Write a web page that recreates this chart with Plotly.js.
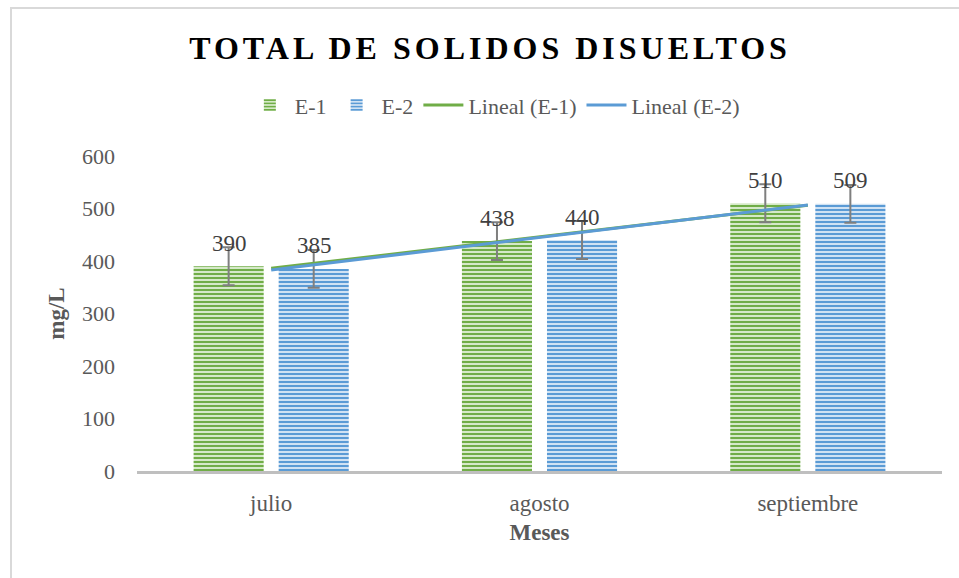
<!DOCTYPE html>
<html>
<head>
<meta charset="utf-8">
<script src="https://cdn.plot.ly/plotly-3.0.1.min.js"></script>
<style>
  html, body { margin:0; padding:0; background:#fff; overflow:hidden; }
  #frame { position:absolute; left:10px; top:7px; width:960px; height:580px;
           border-left:2px solid #d9d9d9; border-top:2px solid #d9d9d9; box-sizing:border-box; }
  #chart { position:absolute; left:0; top:0; width:959px; height:578px; }
  #chart .gtitle { letter-spacing:4px; }
</style>
</head>
<body>
<div id="frame"></div>
<div id="chart"></div>
<script>
// Data
const months = ['julio', 'agosto', 'septiembre'];
const e1 = [390, 438, 510];
const e2 = [385, 440, 509];
const errE1 = [36, 36, 36];
const errE2 = [36, 36, 36];
const trendE1 = [386, 446, 506];
const trendE2 = [382.7, 444.7, 506.7];

const serif = 'Liberation Serif, Times New Roman, serif';

const errStyle = (arr) => ({ type:'data', array:arr, visible:true, color:'#7f7f7f', thickness:2, width:6 });

const traces = [
  { type:'bar', name:'E-1', x:months, y:e1, error_y:errStyle(errE1),
    marker:{ color:'#70ad47', line:{width:0},
      pattern:{ shape:'-', fgcolor:'#70ad47', bgcolor:'#d5e9c8', size:4, solidity:0.5 } },
    hoverinfo:'skip' },
  { type:'bar', name:'E-2', x:months, y:e2, error_y:errStyle(errE2),
    marker:{ color:'#5b9bd5', line:{width:0},
      pattern:{ shape:'-', fgcolor:'#5b9bd5', bgcolor:'#d0e2f3', size:4, solidity:0.5 } },
    hoverinfo:'skip' },
  { type:'scatter', mode:'lines', name:'Lineal (E-1)', x:months, y:trendE1,
    line:{ color:'#70ad47', width:3 }, hoverinfo:'skip' },
  { type:'scatter', mode:'lines', name:'Lineal (E-2)', x:months, y:trendE2,
    line:{ color:'#5b9bd5', width:3 }, hoverinfo:'skip' }
];

const annotations = [];
months.forEach((m, i) => {
  annotations.push({ x:m, y:e1[i], text:String(e1[i]), showarrow:false, xshift:-42, yshift:23,
    yanchor:'middle', font:{ family:serif, size:23, color:'#404040' } });
  annotations.push({ x:m, y:e2[i], text:String(e2[i]), showarrow:false, xshift:43, yshift:23,
    yanchor:'middle', font:{ family:serif, size:23, color:'#404040' } });
});

const layout = {
  width:959, height:578,
  margin:{ l:137, r:17, t:156, b:107, pad:0 },
  paper_bgcolor:'rgba(0,0,0,0)', plot_bgcolor:'rgba(0,0,0,0)',
  font:{ family:serif, color:'#595959' },
  title:{ text:'<b>TOTAL DE SOLIDOS DISUELTOS</b>', xref:'container', yref:'container',
    x:0.511, xanchor:'center', y:0.917, yanchor:'middle',
    font:{ family:serif, size:32, color:'#000000' } },
  showlegend:true,
  legend:{ orientation:'h', xref:'container', yref:'container', x:0.516, xanchor:'center',
    y:0.818, yanchor:'middle', font:{ family:serif, size:22, color:'#595959' },
    itemwidth:40, tracegroupgap:0, traceorder:'normal' },
  barmode:'group', bargap:0.366, bargroupgap:0.176,
  xaxis:{ type:'category', showline:true, linecolor:'#bfbfbf', linewidth:3, ticks:'',
    showgrid:false, zeroline:false, tickfont:{ family:serif, size:23, color:'#595959' },
    ticklabelstandoff:9, automargin:false,
    title:{ text:'<b>Meses</b>', font:{ family:serif, size:23, color:'#595959' }, standoff:10 } },
  yaxis:{ range:[0,600], dtick:100, tick0:0, showgrid:false, zeroline:false, showline:false,
    ticks:'', tickfont:{ family:serif, size:22, color:'#595959' }, ticklabelstandoff:21,
    automargin:false,
    title:{ text:'<b>mg/L</b>', font:{ family:serif, size:23, color:'#595959' }, standoff:10 } },
  annotations:annotations
};

Plotly.newPlot('chart', traces, layout, { staticPlot:true, displayModeBar:false });
</script>
</body>
</html>
